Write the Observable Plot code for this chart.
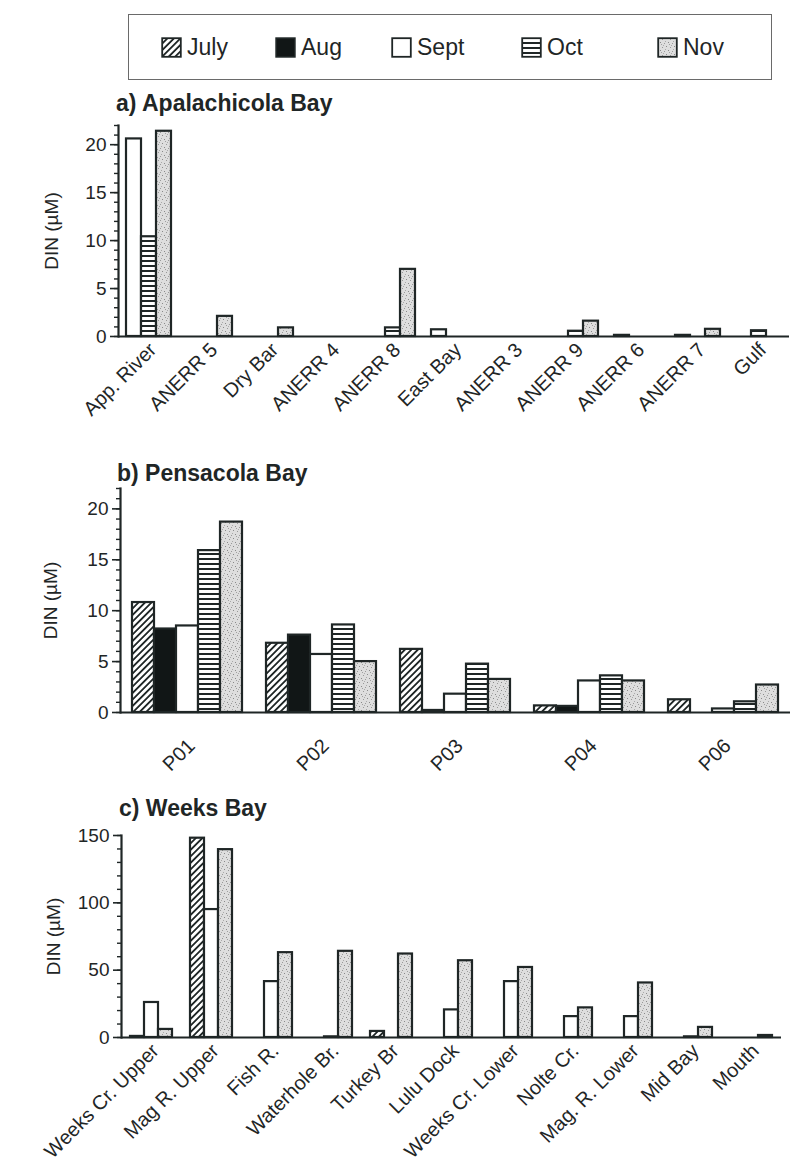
<!DOCTYPE html>
<html>
<head>
<meta charset="utf-8">
<script src="https://cdn.jsdelivr.net/npm/d3@7"></script>
<script src="https://cdn.jsdelivr.net/npm/@observablehq/plot@0.6"></script>
<style>
  body { margin: 0; background: #fff; font-family: "Liberation Sans", Arial, Helvetica, sans-serif; color: #1f2626; }
  #wrap { position: relative; width: 793px; height: 1168px; overflow: hidden; }
  .abs { position: absolute; }
  .title { position: absolute; font-weight: bold; font-size: 23px; line-height: 23px; white-space: nowrap; }
  #legend { position: absolute; left: 128px; top: 14px; width: 644px; height: 66px; border: 1.5px solid #6a6a6a; box-sizing: border-box; }
  .litem { position: absolute; top: 20px; display: flex; align-items: center; font-size: 23px; line-height: 24px; }
  .litem svg { margin-right: 5px; }
</style>
</head>
<body>
<svg width="0" height="0" style="position:absolute">
  <defs>
    <pattern id="pJuly" width="4.6" height="4.6" patternUnits="userSpaceOnUse" patternTransform="rotate(45)">
      <rect width="4.6" height="4.6" fill="#ffffff"/>
      <line x1="0.9" y1="-1" x2="0.9" y2="6" stroke="#1f2626" stroke-width="1.9"/>
    </pattern>
    <pattern id="pAug" width="4" height="4" patternUnits="userSpaceOnUse">
      <rect width="4" height="4" fill="#111616"/>
    </pattern>
    <pattern id="pSept" width="4" height="4" patternUnits="userSpaceOnUse">
      <rect width="4" height="4" fill="#ffffff"/>
    </pattern>
    <pattern id="pOct" width="5" height="5" patternUnits="userSpaceOnUse">
      <rect width="5" height="5" fill="#ffffff"/>
      <rect x="0" y="0" width="5" height="2" fill="#1f2626"/>
    </pattern>
    <pattern id="pNov" width="8" height="8" patternUnits="userSpaceOnUse">
      <rect width="8" height="8" fill="#dedede"/>
      <rect x="1" y="1" width="1" height="1" fill="#8a8a8a"/>
      <rect x="5" y="2" width="1" height="1" fill="#999999"/>
      <rect x="3" y="5" width="1" height="1" fill="#8a8a8a"/>
      <rect x="7" y="6" width="1" height="1" fill="#9a9a9a"/>
      <rect x="0" y="4" width="1" height="1" fill="#aaaaaa"/>
      <rect x="6" y="0" width="1" height="1" fill="#aaaaaa"/>
      <rect x="4" y="7" width="1" height="1" fill="#a0a0a0"/>
    </pattern>
  </defs>
</svg>
<div id="wrap">
  <div id="legend"></div>
  <div class="title" style="left:116px; top:92px;">a) Apalachicola Bay</div>
  <div class="title" style="left:117px; top:462px;">b) Pensacola Bay</div>
  <div class="title" style="left:119px; top:797px;">c) Weeks Bay</div>
  <div id="panelA" class="abs" style="left:0; top:110px;"></div>
  <div id="panelB" class="abs" style="left:0; top:473px;"></div>
  <div id="panelC" class="abs" style="left:0; top:820px;"></div>
</div>
<script>
// ---------- data ----------
const months = ["July", "Aug", "Sept", "Oct", "Nov"];
const patternFills = ["url(#pJuly)", "url(#pAug)", "url(#pSept)", "url(#pOct)", "url(#pNov)"];

// a) Apalachicola Bay (Sept, Oct, Nov)
const sitesA = ["App. River", "ANERR 5", "Dry Bar", "ANERR 4", "ANERR 8", "East Bay", "ANERR 3", "ANERR 9", "ANERR 6", "ANERR 7", "Gulf"];
const monthsA = ["Sept", "Oct", "Nov"];
const septA = [20.6, 0, 0, 0, 0, 0.7, 0, 0, 0.12, 0.12, 0];
const octA  = [10.4, 0, 0, 0, 0.9, 0, 0, 0.55, 0, 0, 0.6];
const novA  = [21.4, 2.1, 0.9, 0, 7.0, 0, 0, 1.6, 0, 0.75, 0];

// b) Pensacola Bay (all months)
const sitesB = ["P01", "P02", "P03", "P04", "P06"];
const monthsB = ["July", "Aug", "Sept", "Oct", "Nov"];
const julyB = [10.8, 6.8, 6.2, 0.65, 1.25];
const augB  = [8.2, 7.6, 0.2, 0.6, 0];
const septB = [8.5, 5.7, 1.8, 3.1, 0.35];
const octB  = [15.9, 8.6, 4.75, 3.6, 1.05];
const novB  = [18.7, 5.0, 3.25, 3.1, 2.7];

// c) Weeks Bay (July, Sept, Nov)
const sitesC = ["Weeks Cr. Upper", "Mag R. Upper", "Fish R.", "Waterhole Br.", "Turkey Br", "Lulu Dock", "Weeks Cr. Lower", "Nolte Cr.", "Mag. R. Lower", "Mid Bay", "Mouth"];
const monthsC = ["July", "Sept", "Nov"];
const julyC = [0.8, 148, 0, 0, 4.5, 0, 0, 0, 0, 0, 0];
const septC = [26, 95, 41.5, 0.5, 0, 20.5, 41.5, 15.5, 15.5, 0.5, 0];
const novC  = [6, 139.5, 63, 64, 62, 57, 52, 22, 40.5, 7.5, 1.5];

const yTicksAB = [0, 5, 10, 15, 20];
const yTicksC = [0, 50, 100, 150];
const yLabel = "DIN (µM)";

// ---------- helpers ----------
const INK = "#1f2626";
const FONT = '"Liberation Sans", Arial, Helvetica, sans-serif';

function toRows(sites, series) {
  const out = [];
  sites.forEach((s, i) => {
    for (const [m, vals] of series) if (vals[i] > 0) out.push({site: s, month: m, value: vals[i]});
  });
  return out;
}

function panel(o) {
  return Plot.plot({
    width: 793,
    height: o.height,
    marginTop: 15,
    marginLeft: o.marginLeft,
    marginRight: o.marginRight,
    marginBottom: o.marginBottom,
    style: {background: "transparent", color: INK, fontFamily: FONT, fontSize: "18px", overflow: "visible"},
    fx: {domain: o.sites, padding: 0, label: null},
    x: {domain: o.months, paddingInner: 0, paddingOuter: o.outer, axis: null},
    y: {domain: [0, o.yMax]},
    color: {type: "ordinal", domain: months, range: patternFills},
    marks: [
      Plot.barY(o.data, {fx: "site", x: "month", y: "value", fill: "month", stroke: INK, strokeWidth: 2.2}),
      Plot.ruleY(o.sites, {fx: d => d, y: () => 0, stroke: INK, strokeWidth: 2.2}),
      Plot.axisY({ticks: o.minor, tickSize: 4, fill: "none", label: null, strokeWidth: 1.4, facetAnchor: "left"}),
      Plot.axisY({ticks: o.major, tickSize: 8, tickPadding: 4, fontSize: 19, strokeWidth: 1.6, facetAnchor: "left",
                  label: yLabel, labelAnchor: "center", labelArrow: false, labelOffset: o.labelOffset}),
      Plot.frame({anchor: "left", facetAnchor: "left", stroke: INK, strokeWidth: 2.2}),
      Plot.axisFx({anchor: "bottom", tickRotate: -45, tickSize: 0, tickPadding: o.tickPadding, dx: 4,
                   fontSize: 20, label: null})
    ]
  });
}

// ---------- legend ----------
const legendLefts = [160, 274, 390, 520, 656];
const legend = document.getElementById("legend");
months.forEach((m, i) => {
  const item = document.createElement("div");
  item.className = "litem";
  item.style.left = (legendLefts[i] - 128) + "px";
  item.innerHTML = `<svg width="21" height="21"><rect x="1.2" y="1.2" width="18.6" height="18.6" fill="${patternFills[i]}" stroke="${INK}" stroke-width="1.8"/></svg><span>${m}</span>`;
  legend.appendChild(item);
});

// ---------- panels ----------
document.getElementById("panelA").appendChild(panel({
  sites: sitesA, months: monthsA,
  data: toRows(sitesA, [["Sept", septA], ["Oct", octA], ["Nov", novA]]),
  yMax: 22, major: yTicksAB, minor: 22, height: 336, marginLeft: 117, marginRight: 3, marginBottom: 110,
  outer: 0.41, tickPadding: 10, labelOffset: 74
}));

document.getElementById("panelB").appendChild(panel({
  sites: sitesB, months: monthsB,
  data: toRows(sitesB, [["July", julyB], ["Aug", augB], ["Sept", septB], ["Oct", octB], ["Nov", novB]]),
  yMax: 22, major: yTicksAB, minor: 22, height: 349, marginLeft: 120, marginRight: 3, marginBottom: 110,
  outer: 0.545, tickPadding: 30, labelOffset: 77
}));

document.getElementById("panelC").appendChild(panel({
  sites: sitesC, months: monthsC,
  data: toRows(sitesC, [["July", julyC], ["Sept", septC], ["Nov", novC]]),
  yMax: 150, major: yTicksC, minor: 15, height: 348, marginLeft: 118, marginRight: 10, marginBottom: 131,
  outer: 0.517, tickPadding: 10, labelOffset: 75
}));
</script>
</body>
</html>
